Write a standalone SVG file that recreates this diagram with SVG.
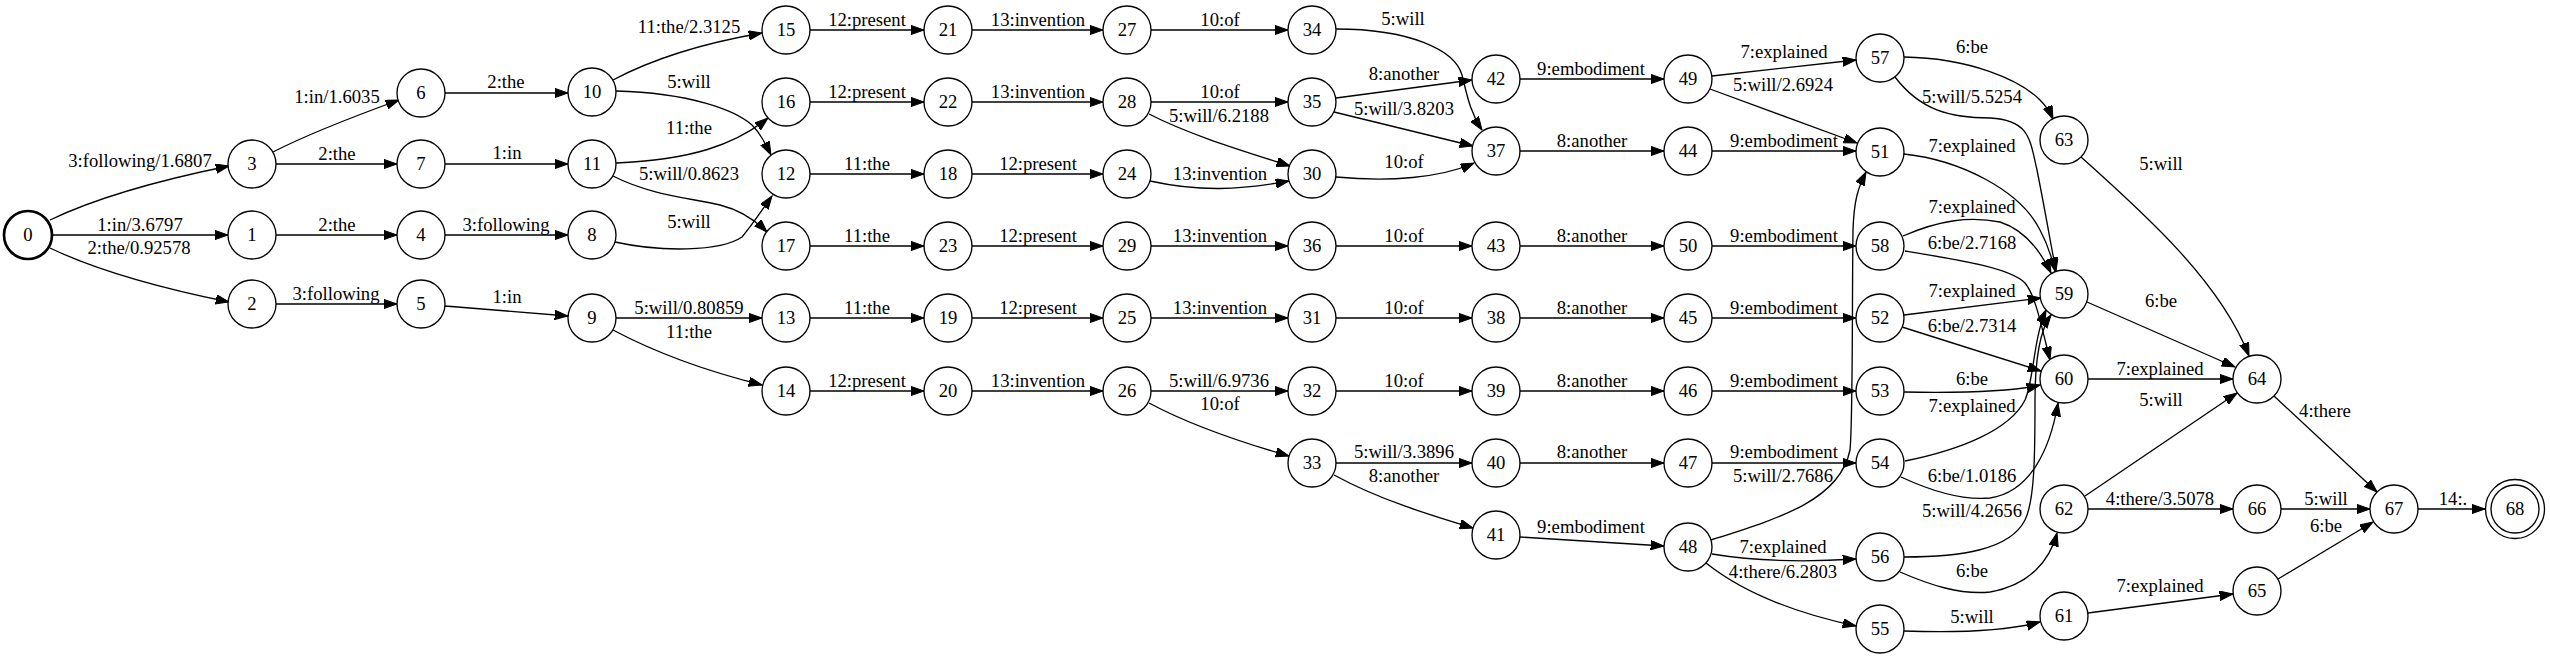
<svg xmlns="http://www.w3.org/2000/svg" width="2550" height="659" viewBox="0 0 2550 659">
<style>
.n circle{fill:#fff;stroke:#000;stroke-width:1.33}
.n text{font-family:"Liberation Serif","Times New Roman",serif;font-size:18.67px;text-anchor:middle;fill:#000}
.e path{fill:none;stroke:#000;stroke-width:1.33;marker-end:url(#a)}
.e text{font-family:"Liberation Serif","Times New Roman",serif;font-size:18.67px;text-anchor:middle;fill:#000}
</style>
<defs>
<marker id="a" markerWidth="14" markerHeight="10" refX="13.3" refY="4.7" orient="auto" markerUnits="userSpaceOnUse"><path d="M0,0 L13.3,4.7 L0,9.4 z" fill="#000" stroke="#000" stroke-width="1"/></marker>
</defs>
<rect width="2550" height="659" fill="#fff"/>
<g id="edges" class="e">
<path d="M50,220 C100,196 160,180 229,166"/><text x="140" y="167">3:following/1.6807</text>
<path d="M52,235 L228,235"/><text x="140" y="231">1:in/3.6797</text>
<path d="M50,248 C100,272 160,288 229,302"/><text x="139" y="254">2:the/0.92578</text>
<path d="M273,152 C310,133 355,116 399,100"/><text x="337" y="103">1:in/1.6035</text>
<path d="M276,164 L397,164"/><text x="337" y="160">2:the</text>
<path d="M276,235 L397,235"/><text x="337" y="231">2:the</text>
<path d="M276,304 L397,304"/><text x="336" y="300">3:following</text>
<path d="M445,93 L568,93"/><text x="506" y="88">2:the</text>
<path d="M445,164 L568,164"/><text x="507" y="159">1:in</text>
<path d="M445,235 L568,235"/><text x="506" y="231">3:following</text>
<path d="M445,306 L568,316"/><text x="507" y="303">1:in</text>
<path d="M613,80 C660,55 710,42 762,33"/><text x="689" y="33">11:the/2.3125</text>
<path d="M616,91 C690,93 735,110 752,125 C760,133 765,143 771,155"/><text x="689" y="88">5:will</text>
<path d="M616,163 C690,160 735,145 768,118"/><text x="689" y="134">11:the</text>
<path d="M613,176 C650,195 690,198 720,205 C740,210 755,220 767,232"/><text x="689" y="180">5:will/0.8623</text>
<path d="M615,242 C660,252 720,252 742,237 C752,225 762,210 772,196"/><text x="689" y="228">5:will</text>
<path d="M616,318 L762,318"/><text x="689" y="314">5:will/0.80859</text>
<path d="M613,330 C660,355 710,372 762,385"/><text x="689" y="338">11:the</text>
<path d="M810,30 L924,30"/><text x="867" y="26">12:present</text>
<path d="M810,102 L924,102"/><text x="867" y="98">12:present</text>
<path d="M810,174 L924,174"/><text x="867" y="170">11:the</text>
<path d="M810,246 L924,246"/><text x="867" y="242">11:the</text>
<path d="M810,318 L924,318"/><text x="867" y="314">11:the</text>
<path d="M810,391 L924,391"/><text x="867" y="387">12:present</text>
<path d="M972,30 L1103,30"/><text x="1038" y="26">13:invention</text>
<path d="M972,102 L1103,102"/><text x="1038" y="98">13:invention</text>
<path d="M972,174 L1103,174"/><text x="1038" y="170">12:present</text>
<path d="M972,246 L1103,246"/><text x="1038" y="242">12:present</text>
<path d="M972,318 L1103,318"/><text x="1038" y="314">12:present</text>
<path d="M972,391 L1103,391"/><text x="1038" y="387">13:invention</text>
<path d="M1151,30 L1288,30"/><text x="1220" y="26">10:of</text>
<path d="M1151,102 L1288,102"/><text x="1220" y="98">10:of</text>
<path d="M1149,114 C1190,135 1240,150 1290,166"/><text x="1219" y="122">5:will/6.2188</text>
<path d="M1150,181 C1200,192 1240,190 1289,181"/><text x="1220" y="180">13:invention</text>
<path d="M1151,246 L1288,246"/><text x="1220" y="242">13:invention</text>
<path d="M1151,318 L1288,318"/><text x="1220" y="314">13:invention</text>
<path d="M1151,391 L1288,391"/><text x="1219" y="387">5:will/6.9736</text>
<path d="M1149,403 C1190,425 1240,442 1289,456"/><text x="1220" y="410">10:of</text>
<path d="M1336,29 C1410,29 1455,50 1462,75 C1467,95 1470,112 1482,130"/><text x="1403" y="25">5:will</text>
<path d="M1336,98 L1472,80"/><text x="1404" y="80">8:another</text>
<path d="M1334,112 L1473,146"/><text x="1404" y="115">5:will/3.8203</text>
<path d="M1336,177 C1390,182 1440,178 1474,163"/><text x="1404" y="168">10:of</text>
<path d="M1336,246 L1472,246"/><text x="1404" y="242">10:of</text>
<path d="M1336,318 L1472,318"/><text x="1404" y="314">10:of</text>
<path d="M1336,391 L1472,391"/><text x="1404" y="387">10:of</text>
<path d="M1336,463 L1472,463"/><text x="1404" y="458">5:will/3.3896</text>
<path d="M1334,475 C1380,500 1430,515 1473,528"/><text x="1404" y="482">8:another</text>
<path d="M1520,79 L1664,79"/><text x="1591" y="75">9:embodiment</text>
<path d="M1520,151 L1664,151"/><text x="1592" y="147">8:another</text>
<path d="M1520,246 L1664,246"/><text x="1592" y="242">8:another</text>
<path d="M1520,318 L1664,318"/><text x="1592" y="314">8:another</text>
<path d="M1520,391 L1664,391"/><text x="1592" y="387">8:another</text>
<path d="M1520,463 L1664,463"/><text x="1592" y="458">8:another</text>
<path d="M1520,537 L1664,546"/><text x="1591" y="533">9:embodiment</text>
<path d="M1712,76 L1856,60"/><text x="1784" y="58">7:explained</text>
<path d="M1710,89 L1857,143"/><text x="1783" y="91">5:will/2.6924</text>
<path d="M1712,151 L1856,151"/><text x="1784" y="147">9:embodiment</text>
<path d="M1712,246 L1856,246"/><text x="1784" y="242">9:embodiment</text>
<path d="M1712,318 L1856,318"/><text x="1784" y="314">9:embodiment</text>
<path d="M1712,391 L1856,391"/><text x="1784" y="387">9:embodiment</text>
<path d="M1712,463 L1856,463"/><text x="1784" y="458">9:embodiment</text>
<path d="M1711,540 C1780,518 1840,500 1850,450 C1853,420 1852,300 1853,230 C1854,200 1858,188 1866,172"/><text x="1783" y="482">5:will/2.7686</text>
<path d="M1712,554 C1760,562 1810,562 1856,559"/><text x="1783" y="553">7:explained</text>
<path d="M1706,563 C1740,590 1790,612 1856,626"/><text x="1783" y="578">4:there/6.2803</text>
<path d="M1904,57 C1970,58 2020,80 2040,100 C2046,106 2050,112 2053,119"/><text x="1972" y="53">6:be</text>
<path d="M1895,77 C1920,110 1950,118 1990,118 C2030,120 2030,140 2037,170 C2045,210 2050,240 2056,271"/><text x="1972" y="103">5:will/5.5254</text>
<path d="M1904,154 C1960,160 2020,190 2040,230 C2048,245 2052,258 2055,271"/><text x="1972" y="152">7:explained</text>
<path d="M1903,236 C1940,220 1970,216 2000,222 C2025,230 2040,250 2051,273"/><text x="1972" y="213">7:explained</text>
<path d="M1905,251 C1960,260 2010,268 2025,283 C2035,295 2040,320 2050,360"/><text x="1972" y="249">6:be/2.7168</text>
<path d="M1904,315 L2041,298"/><text x="1972" y="297">7:explained</text>
<path d="M1902,327 L2041,371"/><text x="1972" y="332">6:be/2.7314</text>
<path d="M1904,392 C1960,393 2010,392 2040,385"/><text x="1972" y="385">6:be</text>
<path d="M1905,461 C1960,450 2010,430 2025,400 C2034,380 2033,340 2046,310"/><text x="1972" y="412">7:explained</text>
<path d="M1901,477 C1940,495 1970,500 1990,498 C2030,492 2050,450 2058,403"/><text x="1972" y="482">6:be/1.0186</text>
<path d="M1904,557 C1960,557 2010,550 2025,520 C2035,500 2035,450 2035,400 C2035,360 2040,330 2051,315"/><text x="1972" y="517">5:will/4.2656</text>
<path d="M1900,572 C1930,585 1960,595 1990,592 C2030,585 2050,560 2057,533"/><text x="1972" y="577">6:be</text>
<path d="M1904,631 C1960,633 2010,630 2040,622"/><text x="1972" y="623">5:will</text>
<path d="M2081,157 C2140,210 2220,280 2249,356"/><text x="2161" y="170">5:will</text>
<path d="M2087,302 L2235,367"/><text x="2161" y="307">6:be</text>
<path d="M2088,379 L2233,379"/><text x="2160" y="375">7:explained</text>
<path d="M2085,496 L2237,393"/><text x="2161" y="406">5:will</text>
<path d="M2088,509 L2233,509"/><text x="2160" y="505">4:there/3.5078</text>
<path d="M2088,613 L2233,594"/><text x="2160" y="592">7:explained</text>
<path d="M2274,396 L2377,492"/><text x="2325" y="417">4:there</text>
<path d="M2281,509 L2370,509"/><text x="2326" y="505">5:will</text>
<path d="M2278,579 L2373,522"/><text x="2326" y="532">6:be</text>
<path d="M2418,509 L2485,509"/><text x="2453" y="505">14:.</text>
</g>
<g class="n">
<g id="n0"><circle cx="28" cy="235" r="24" stroke-width="2.7" style="stroke-width:2.7"/><text x="28" y="241">0</text></g>
<g id="n1"><circle cx="252" cy="235" r="24"/><text x="252" y="241">1</text></g>
<g id="n2"><circle cx="252" cy="304" r="24"/><text x="252" y="310">2</text></g>
<g id="n3"><circle cx="252" cy="164" r="24"/><text x="252" y="170">3</text></g>
<g id="n4"><circle cx="421" cy="235" r="24"/><text x="421" y="241">4</text></g>
<g id="n5"><circle cx="421" cy="304" r="24"/><text x="421" y="310">5</text></g>
<g id="n6"><circle cx="421" cy="93" r="24"/><text x="421" y="99">6</text></g>
<g id="n7"><circle cx="421" cy="164" r="24"/><text x="421" y="170">7</text></g>
<g id="n8"><circle cx="592" cy="235" r="24"/><text x="592" y="241">8</text></g>
<g id="n9"><circle cx="592" cy="318" r="24"/><text x="592" y="324">9</text></g>
<g id="n10"><circle cx="592" cy="92" r="24"/><text x="592" y="98">10</text></g>
<g id="n11"><circle cx="592" cy="164" r="24"/><text x="592" y="170">11</text></g>
<g id="n12"><circle cx="786" cy="174" r="24"/><text x="786" y="180">12</text></g>
<g id="n13"><circle cx="786" cy="318" r="24"/><text x="786" y="324">13</text></g>
<g id="n14"><circle cx="786" cy="391" r="24"/><text x="786" y="397">14</text></g>
<g id="n15"><circle cx="786" cy="30" r="24"/><text x="786" y="36">15</text></g>
<g id="n16"><circle cx="786" cy="102" r="24"/><text x="786" y="108">16</text></g>
<g id="n17"><circle cx="786" cy="246" r="24"/><text x="786" y="252">17</text></g>
<g id="n18"><circle cx="948" cy="174" r="24"/><text x="948" y="180">18</text></g>
<g id="n19"><circle cx="948" cy="318" r="24"/><text x="948" y="324">19</text></g>
<g id="n20"><circle cx="948" cy="391" r="24"/><text x="948" y="397">20</text></g>
<g id="n21"><circle cx="948" cy="30" r="24"/><text x="948" y="36">21</text></g>
<g id="n22"><circle cx="948" cy="102" r="24"/><text x="948" y="108">22</text></g>
<g id="n23"><circle cx="948" cy="246" r="24"/><text x="948" y="252">23</text></g>
<g id="n24"><circle cx="1127" cy="174" r="24"/><text x="1127" y="180">24</text></g>
<g id="n25"><circle cx="1127" cy="318" r="24"/><text x="1127" y="324">25</text></g>
<g id="n26"><circle cx="1127" cy="391" r="24"/><text x="1127" y="397">26</text></g>
<g id="n27"><circle cx="1127" cy="30" r="24"/><text x="1127" y="36">27</text></g>
<g id="n28"><circle cx="1127" cy="102" r="24"/><text x="1127" y="108">28</text></g>
<g id="n29"><circle cx="1127" cy="246" r="24"/><text x="1127" y="252">29</text></g>
<g id="n30"><circle cx="1312" cy="174" r="24"/><text x="1312" y="180">30</text></g>
<g id="n31"><circle cx="1312" cy="318" r="24"/><text x="1312" y="324">31</text></g>
<g id="n32"><circle cx="1312" cy="391" r="24"/><text x="1312" y="397">32</text></g>
<g id="n33"><circle cx="1312" cy="463" r="24"/><text x="1312" y="469">33</text></g>
<g id="n34"><circle cx="1312" cy="30" r="24"/><text x="1312" y="36">34</text></g>
<g id="n35"><circle cx="1312" cy="102" r="24"/><text x="1312" y="108">35</text></g>
<g id="n36"><circle cx="1312" cy="246" r="24"/><text x="1312" y="252">36</text></g>
<g id="n37"><circle cx="1496" cy="151" r="24"/><text x="1496" y="157">37</text></g>
<g id="n38"><circle cx="1496" cy="318" r="24"/><text x="1496" y="324">38</text></g>
<g id="n39"><circle cx="1496" cy="391" r="24"/><text x="1496" y="397">39</text></g>
<g id="n40"><circle cx="1496" cy="463" r="24"/><text x="1496" y="469">40</text></g>
<g id="n41"><circle cx="1496" cy="535" r="24"/><text x="1496" y="541">41</text></g>
<g id="n42"><circle cx="1496" cy="79" r="24"/><text x="1496" y="85">42</text></g>
<g id="n43"><circle cx="1496" cy="246" r="24"/><text x="1496" y="252">43</text></g>
<g id="n44"><circle cx="1688" cy="151" r="24"/><text x="1688" y="157">44</text></g>
<g id="n45"><circle cx="1688" cy="318" r="24"/><text x="1688" y="324">45</text></g>
<g id="n46"><circle cx="1688" cy="391" r="24"/><text x="1688" y="397">46</text></g>
<g id="n47"><circle cx="1688" cy="463" r="24"/><text x="1688" y="469">47</text></g>
<g id="n48"><circle cx="1688" cy="547" r="24"/><text x="1688" y="553">48</text></g>
<g id="n49"><circle cx="1688" cy="79" r="24"/><text x="1688" y="85">49</text></g>
<g id="n50"><circle cx="1688" cy="246" r="24"/><text x="1688" y="252">50</text></g>
<g id="n51"><circle cx="1880" cy="152" r="24"/><text x="1880" y="158">51</text></g>
<g id="n52"><circle cx="1880" cy="318" r="24"/><text x="1880" y="324">52</text></g>
<g id="n53"><circle cx="1880" cy="391" r="24"/><text x="1880" y="397">53</text></g>
<g id="n54"><circle cx="1880" cy="463" r="24"/><text x="1880" y="469">54</text></g>
<g id="n55"><circle cx="1880" cy="629" r="24"/><text x="1880" y="635">55</text></g>
<g id="n56"><circle cx="1880" cy="557" r="24"/><text x="1880" y="563">56</text></g>
<g id="n57"><circle cx="1880" cy="58" r="24"/><text x="1880" y="64">57</text></g>
<g id="n58"><circle cx="1880" cy="246" r="24"/><text x="1880" y="252">58</text></g>
<g id="n59"><circle cx="2064" cy="294" r="24"/><text x="2064" y="300">59</text></g>
<g id="n60"><circle cx="2064" cy="379" r="24"/><text x="2064" y="385">60</text></g>
<g id="n61"><circle cx="2064" cy="616" r="24"/><text x="2064" y="622">61</text></g>
<g id="n62"><circle cx="2064" cy="509" r="24"/><text x="2064" y="515">62</text></g>
<g id="n63"><circle cx="2064" cy="140" r="24"/><text x="2064" y="146">63</text></g>
<g id="n64"><circle cx="2257" cy="379" r="24"/><text x="2257" y="385">64</text></g>
<g id="n65"><circle cx="2257" cy="591" r="24"/><text x="2257" y="597">65</text></g>
<g id="n66"><circle cx="2257" cy="509" r="24"/><text x="2257" y="515">66</text></g>
<g id="n67"><circle cx="2394" cy="509" r="24"/><text x="2394" y="515">67</text></g>
<g id="n68"><circle cx="2515" cy="509" r="29.5"/><circle cx="2515" cy="509" r="24"/><text x="2515" y="515">68</text></g>
</g>
</svg>
